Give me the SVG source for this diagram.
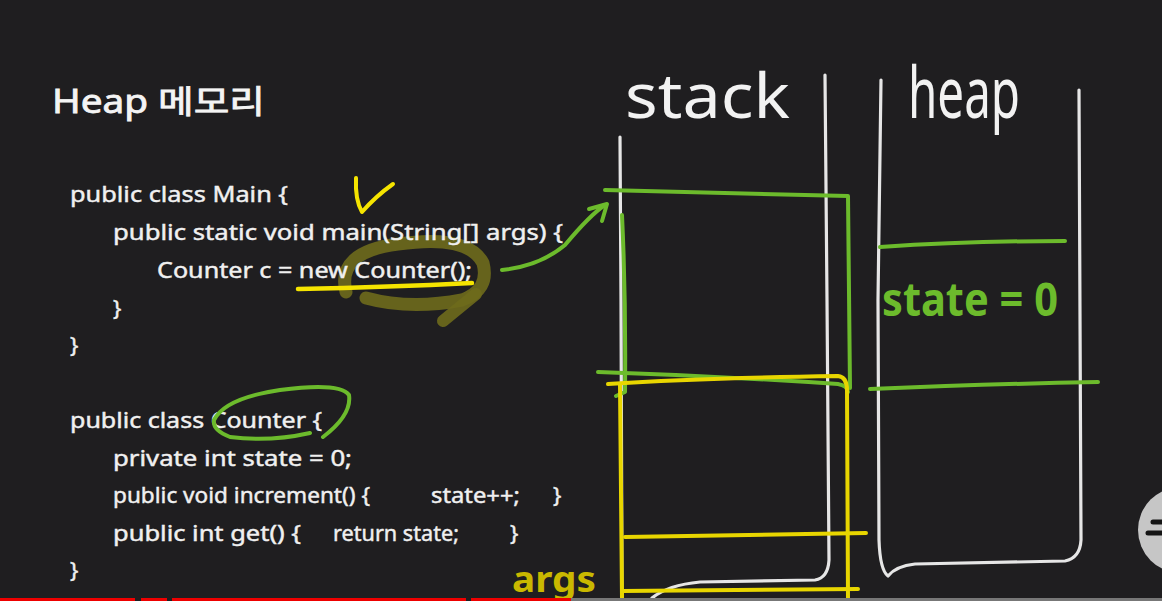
<svg xmlns="http://www.w3.org/2000/svg" width="1162" height="601" viewBox="0 0 1162 601">
<style>
.code{font-family:"Noto Sans","Open Sans",sans-serif;font-size:22px;fill:#f0f0f0;stroke:#f0f0f0;stroke-width:0.45}
.chalk{fill:none;stroke:#e6e6e6;stroke-width:3.2;stroke-linecap:round;stroke-linejoin:round}
.g{fill:none;stroke:#6cbb2c;stroke-width:4;stroke-linecap:round;stroke-linejoin:round}
.y{fill:none;stroke:#e8d600;stroke-width:4;stroke-linecap:round;stroke-linejoin:round}
.hand{font-family:"Noto Sans","DejaVu Sans",sans-serif}
</style>
<rect width="1162" height="601" fill="#1f1e20"/>

<g id="loop">
<path d="M346,292 Q336,252 398,244 Q468,234 483,263 Q490,290 462,300 Q410,310 366,298" fill="none" stroke="#6e6a1c" stroke-width="13" stroke-linecap="round" stroke-linejoin="round" opacity="0.9"/>
<path d="M476,294 L443,321" fill="none" stroke="#6e6a1c" stroke-width="12" stroke-linecap="round" opacity="0.9"/>
</g>

<g id="title">
<text x="52" y="113" font-family="Noto Sans, Noto Sans CJK KR, sans-serif" font-size="32" fill="#f4f4f4" stroke="#f4f4f4" stroke-width="0.8" textLength="213" lengthAdjust="spacingAndGlyphs">Heap 메모리</text>
</g>

<g id="code">
<text class="code" x="70" y="202" textLength="218" lengthAdjust="spacingAndGlyphs">public class Main {</text>
<text class="code" x="113" y="240" textLength="450" lengthAdjust="spacingAndGlyphs">public static void main(String[] args) {</text>
<text class="code" x="157" y="278" textLength="315" lengthAdjust="spacingAndGlyphs">Counter c = new Counter();</text>
<text class="code" x="113" y="316">}</text>
<text class="code" x="70" y="353">}</text>
<text class="code" x="70" y="428" textLength="252" lengthAdjust="spacingAndGlyphs">public class Counter {</text>
<text class="code" x="113" y="466" textLength="239" lengthAdjust="spacingAndGlyphs">private int state = 0;</text>
<text class="code" x="113" y="503" textLength="257" lengthAdjust="spacingAndGlyphs">public void increment() {</text>
<text class="code" x="431" y="503" textLength="89" lengthAdjust="spacingAndGlyphs">state++;</text>
<text class="code" x="553" y="503">}</text>
<text class="code" x="113" y="541" textLength="188" lengthAdjust="spacingAndGlyphs">public int get() {</text>
<text class="code" x="333" y="541" textLength="126" lengthAdjust="spacingAndGlyphs">return state;</text>
<text class="code" x="510" y="541">}</text>
<text class="code" x="70" y="578">}</text>
</g>

<g id="annotations">
<path d="M298,289 Q390,287 472,283" fill="none" stroke="#f5e400" stroke-width="4.5" stroke-linecap="round"/>
<path d="M356,178 Q355,200 362,212 Q376,196 393,184" fill="none" stroke="#f5e400" stroke-width="4" stroke-linecap="round" stroke-linejoin="round"/>
<path class="g" d="M310,433 Q270,442 230,437 Q212,430 214,420 Q225,398 280,390 Q340,382 349,395 Q352,415 323,437" stroke-width="3.5"/>
</g>

<g id="stack">
<text class="hand" x="625" y="118" font-size="62" fill="#f2f2f2" textLength="165" lengthAdjust="spacingAndGlyphs">stack</text>
<path class="chalk" d="M620,137 L621,300 L622,597"/>
<path class="chalk" d="M825,75 L827,300 L829,560 Q828,578 815,580 L700,582 Q668,585 652,598"/>
<path class="g" d="M605,190 L848,196 L850,388"/>
<path class="g" d="M622,215 Q626,300 625,392 L616,396"/>
<path class="g" d="M598,372 Q720,376 838,384 Q848,386 848,392" stroke-width="3.5"/>
<path class="y" d="M608,384 Q700,378 838,376 Q847,377 847,390 L848,600"/>
<path class="y" d="M620,385 L622,598"/>
<path class="y" d="M625,537 L866,533" stroke-width="5"/>
<path class="y" d="M622,591 L858,589"/>
</g>

<g id="heap">
<text class="hand" x="908" y="118" font-size="72" fill="#f2f2f2" textLength="112" lengthAdjust="spacingAndGlyphs">heap</text>
<path class="chalk" d="M881,80 L878,300 L879,540 Q880,570 888,576 Q896,566 915,564 L1065,561 Q1080,558 1081,540 L1079,90"/>
<path class="g" d="M880,247 Q970,241 1065,241"/>
<path class="g" d="M870,389 Q990,384 1098,382" stroke-width="4.5"/>
<text class="hand" x="882" y="316" font-size="46" font-weight="bold" fill="#6cbb2c" textLength="176" lengthAdjust="spacingAndGlyphs">state = 0</text>
</g>

<g id="connectors">
<path class="g" d="M502,270 Q540,266 565,245 Q590,215 605,205" stroke-width="3.5"/>
<path class="g" d="M589,209 L607,204 L602,221" stroke-width="3.5"/>
</g>

<g id="args">
<text class="hand" x="512" y="592" font-size="36" font-weight="bold" fill="#c9b800" textLength="84" lengthAdjust="spacingAndGlyphs">args</text>
</g>

<g id="player">
<rect x="0" y="598" width="135" height="3" fill="#e00"/>
<rect x="141" y="598" width="26" height="3" fill="#e00"/>
<rect x="172" y="598" width="294" height="3" fill="#e00"/>
<rect x="471" y="598" width="100" height="3" fill="#e00"/>
<rect x="571" y="598" width="591" height="3" fill="#777"/>
<circle cx="1181" cy="530" r="43" fill="#c6c6c6"/>
<path d="M1153,522 L1162,522 M1148,533 L1162,533" stroke="#151515" stroke-width="5" stroke-linecap="round"/>
</g>
</svg>
